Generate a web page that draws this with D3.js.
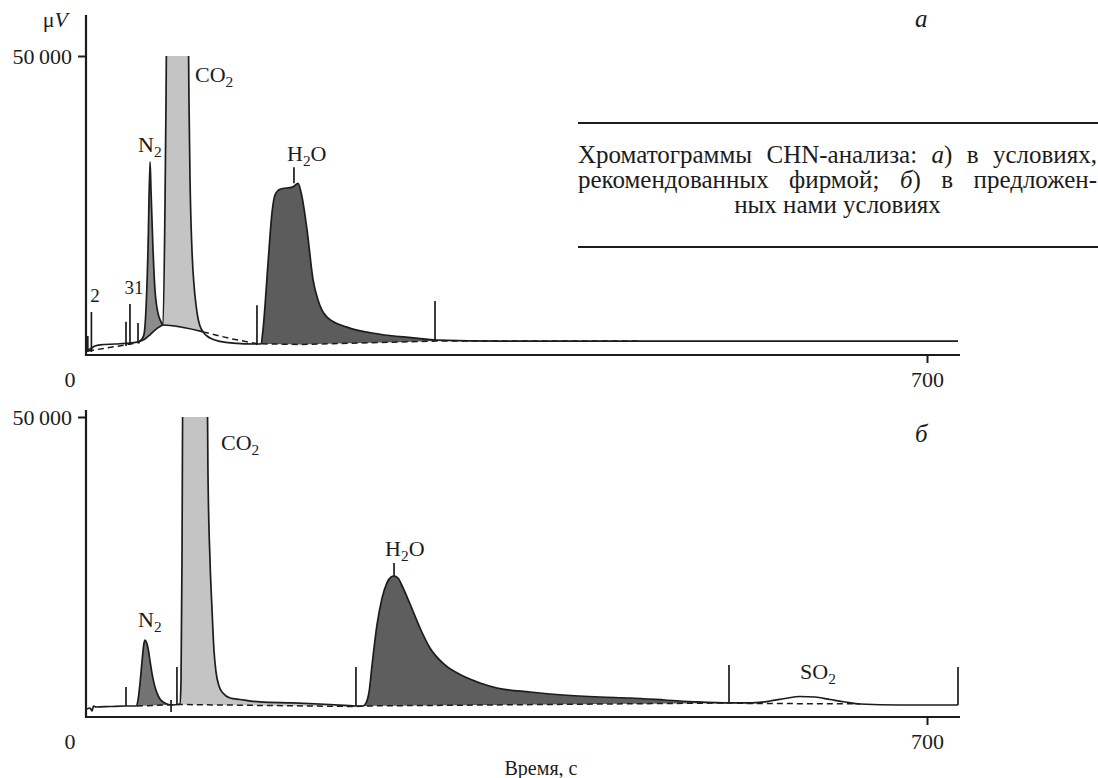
<!DOCTYPE html>
<html>
<head>
<meta charset="utf-8">
<script src="https://cdn.jsdelivr.net/npm/d3@7"></script>
<style>
  body { margin: 0; background: #fff; }
  text { font-family: "Liberation Serif", "Times New Roman", serif; fill: #1c1c1c; }
</style>
</head>
<body>
<svg id="chart" width="1098" height="778"></svg>
<script>
// ---- data: time (s), signal (μV) ----
const xTicks = [700]
const yTicks = [50000]

// panel а
const signalA = [[0,340],[3.3,500],[7.5,1000],[11.7,1200],[24.1,1350],[36.6,1500],[43.3,1700],[46.6,2200],[48.3,3000],[49.9,7100],[51.6,17200],[53.3,32100],[54.1,27400],[55.8,17200],[57.4,10500],[59.1,7400],[60.8,5900],[62.4,5100],[64.1,4560],[65.8,25700],[66.6,42600],[67.4,60000],[84.9,60000],[85.7,42600],[86.6,29000],[88.2,17200],[89.9,11300],[91.6,7900],[93.2,5700],[94.9,4400],[97.4,3400],[100.7,2700],[104.9,2200],[111.5,1800],[122.4,1500],[142.3,1350],[145.7,1350],[147.3,3700],[151.5,15000],[154.8,23500],[157.3,26500],[161.5,27500],[172.3,27900],[176.5,28500],[179.8,26200],[184,20600],[189,12200],[193.1,8800],[200.6,5900],[217.2,4200],[244.7,3000],[272.2,2400],[292.2,2000],[344.6,1850],[725.8,1850]]
const humpA = [[43.3,1700],[49.1,2200],[53.3,2900],[57.4,3700],[61.6,4300],[64.1,4560],[97.4,3400]]
const dashA1 = [[1.7,170],[44.9,1600]]
const dashA2 = [[97.4,3400],[119.9,2280],[142.3,1400],[178.1,1270],[292.2,1850],[461.1,1850]]
// vertical markers: time, low, high
const marksA = [[1.5,0,2700],[4.5,0,6750],[33.3,1000,5100],[36.6,1200,8100],[43.3,1700,4900],[142.3,1200,7900],[290.5,1850,8600],[173.1,28500,31200]]
// peaks: name, from, to, baseline
const peaksA = [["N2",43.3,64.1,"hump"],["CO2",64.1,97.4,"hump"],["H2O",142.3,292.2,"dash"]]
const labelsA = [["2",7.5,8450,"middle"],["31",40,9800,"middle"],["N2",43.3,33780,"start"],["CO2",90.7,45600,"start"],["H2O",167.3,32260,"start"]]

// panel б
const signalB = [[0.8,500],[3.3,680],[5,170],[6.2,1020],[8.3,850],[20,930],[32.5,1020],[41.6,1020],[43.3,2030],[44.9,4750],[46.6,8500],[48.3,11700],[49.1,12200],[49.9,12000],[51.6,10850],[53.3,8650],[54.9,6600],[56.6,4900],[59.1,3200],[61.6,2200],[64.1,1700],[67.4,1360],[71.6,1190],[76.6,1270],[78.2,1360],[79.1,5400],[79.9,25800],[80.7,60000],[100.7,60000],[101.5,41000],[103.2,25800],[104.9,17300],[106.5,10500],[108.2,6800],[110.7,4400],[114,3200],[119.9,2370],[128.2,2120],[144.8,1700],[172.3,1530],[203.1,1270],[224.7,1020],[230.6,1020],[233.1,1530],[235.6,3400],[238.1,7970],[242.2,14750],[246.4,19300],[250.5,21870],[253.9,22880],[256.4,23050],[259.7,22710],[263.9,21020],[269.7,18300],[278,14240],[286.3,10850],[298.8,7970],[313.8,6100],[328,4920],[342.1,4070],[369.6,3390],[397,2880],[427.8,2540],[452.8,2370],[481.9,2030],[508.6,1700],[536,1530],[552.7,1530],[569.3,1860],[581.8,2290],[594.3,2630],[606.8,2540],[619.3,2120],[631.8,1700],[644.3,1360],[677.5,1190],[725.8,1190]]
const dashB = [[42.4,1020],[78.2,1270],[225.6,930],[230.6,1020],[536,1530],[554.3,1440],[644.3,1390]]
const marksB = [[33.3,1020,4240],[70.8,0,2030],[75.7,1360,7630],[224.7,1020,7630],[535.2,1530,7970],[725.8,1190,7630],[256.4,23050,25250]]
const peaksB = [["N2",42.4,71.6,"dash"],["CO2",78.2,224.7,"dash"],["H2O",230.6,536,"dash"]]
const labelsB = [["N2",43.3,14400,"start"],["CO2",112.4,44400,"start"],["H2O",248.9,26440,"start"],["SO2",594.3,5590,"start"]]

const captionLines = [
  ["Хроматограммы", "CHN-анализа:", "_а_)", "в", "условиях,"],
  ["рекомендованных", "фирмой;", "_б_)", "в", "предложен-"],
  ["ных", "нами", "условиях"]
]

// ---- drawing ----
const svg = d3.select("#chart")
const x = d3.scaleLinear().domain([0, 700]).range([86, 927])
const xRight = 960
const ink = "#1c1c1c"

const fills = {
  a: { N2: "#8c8c8c", CO2: "#c4c4c4", H2O: "#5c5c5c" },
  b: { N2: "#737373", CO2: "#c4c4c4", H2O: "#5e5e5e" }
}

function interp(arr, t) {
  if (t <= arr[0][0]) return arr[0][1]
  for (let i = 1; i < arr.length; i++) {
    if (t <= arr[i][0]) {
      const [t0, v0] = arr[i - 1], [t1, v1] = arr[i]
      return v0 + (v1 - v0) * (t - t0) / (t1 - t0)
    }
  }
  return arr[arr.length - 1][1]
}

function segment(arr, a, b) {
  return [[a, interp(arr, a)], ...arr.filter(d => d[0] > a && d[0] < b), [b, interp(arr, b)]]
}

// chemical label with subscript digits
function chemLabel(g, txt, px, py, anchor, size) {
  const t = g.append("text").attr("x", px).attr("y", py)
    .attr("text-anchor", anchor).attr("font-size", size)
  if (/^\d+$/.test(txt)) { t.text(txt); return t }
  let sub = false
  txt.split(/(\d)/).filter(s => s).forEach(s => {
    const isNum = /\d/.test(s)
    const ts = t.append("tspan").text(s)
    if (isNum && !sub) { ts.attr("dy", 5).attr("font-size", size * 0.7); sub = true }
    else if (!isNum && sub) { ts.attr("dy", -5); sub = false }
  })
  return t
}

function drawPanel(p) {
  const y = d3.scaleLinear().domain([0, 50000]).range([p.zeroY, p.topY])
  const g = svg.append("g")

  svg.append("defs").append("clipPath").attr("id", "clip" + p.id)
    .append("rect")
    .attr("x", x(0)).attr("y", y(50000))
    .attr("width", xRight - x(0)).attr("height", p.axisY - y(50000))

  const line = d3.line().x(d => x(d[0])).y(d => y(d[1])).curve(d3.curveMonotoneX)
  const straight = d3.line().x(d => x(d[0])).y(d => y(d[1]))

  // filled peaks
  p.peaks.forEach(([name, a, b, baseKey]) => {
    const base = p.bases[baseKey]
    const area = d3.area()
      .x(d => x(d[0]))
      .y1(d => y(d[1]))
      .y0(d => y(interp(base, d[0])))
      .curve(d3.curveMonotoneX)
    g.append("path")
      .attr("d", area(segment(p.signal, a, b)))
      .attr("fill", fills[p.id][name])
      .attr("clip-path", `url(#clip${p.id})`)
  })

  // integration baselines
  p.dashes.forEach(ds => {
    g.append("path").attr("d", straight(ds))
      .attr("fill", "none").attr("stroke", ink)
      .attr("stroke-width", 1.5).attr("stroke-dasharray", "6,4")
  })
  if (p.hump) {
    g.append("path").attr("d", line(p.hump))
      .attr("fill", "none").attr("stroke", ink).attr("stroke-width", 1.6)
  }

  // signal
  g.append("path").attr("d", line(p.signal))
    .attr("fill", "none").attr("stroke", ink).attr("stroke-width", 1.7)
    .attr("stroke-linejoin", "round")
    .attr("clip-path", `url(#clip${p.id})`)

  // markers
  g.selectAll(".mark").data(p.marks).join("line")
    .attr("class", "mark")
    .attr("x1", d => x(d[0])).attr("x2", d => x(d[0]))
    .attr("y1", d => y(d[1])).attr("y2", d => y(d[2]))
    .attr("stroke", ink).attr("stroke-width", 1.7)

  // axes
  g.append("line")
    .attr("x1", x(0)).attr("x2", x(0))
    .attr("y1", p.axisTop).attr("y2", p.axisY + 1)
    .attr("stroke", ink).attr("stroke-width", 2.2)
  g.append("line")
    .attr("x1", x(0) - 1).attr("x2", xRight)
    .attr("y1", p.axisY).attr("y2", p.axisY)
    .attr("stroke", ink).attr("stroke-width", 2.2)

  const yAxis = g.append("g").attr("transform", `translate(${x(0)},0)`)
    .call(d3.axisLeft(y).tickValues(yTicks).tickSize(8).tickPadding(6)
      .tickFormat(d => d3.format(",")(d).replace(",", "\u2009")))
  yAxis.select(".domain").remove()
  yAxis.selectAll("line").attr("stroke", ink).attr("stroke-width", 2)
  yAxis.selectAll("text").attr("font-size", 22).attr("font-family", null).attr("fill", ink)

  const xAxis = g.append("g").attr("transform", `translate(0,${p.axisY})`)
    .call(d3.axisBottom(x).tickValues(xTicks).tickSize(8).tickPadding(8))
  xAxis.select(".domain").remove()
  xAxis.selectAll("line").attr("stroke", ink).attr("stroke-width", 2)
  xAxis.selectAll("text").attr("font-size", 22).attr("font-family", null).attr("fill", ink)
  xAxis.append("text").attr("x", x(0) - 16).attr("y", 16).attr("dy", "0.71em")
    .attr("text-anchor", "middle").attr("font-size", 22).text("0")

  // peak labels
  p.labels.forEach(([txt, t, v, anchor]) => {
    const small = /^\d+$/.test(txt)
    chemLabel(g, txt, x(t), y(v), anchor, small ? 19 : 22)
  })

  // panel tag
  g.append("text").attr("x", 915).attr("y", p.tagY)
    .attr("font-size", 25).attr("font-style", "italic").text(p.tag)
}

drawPanel({
  id: "a", zeroY: 352, topY: 56, axisTop: 15, axisY: 355,
  signal: signalA, hump: humpA, dashes: [dashA1, dashA2],
  bases: { hump: humpA, dash: dashA2 },
  marks: marksA, peaks: peaksA, labels: labelsA, tag: "а", tagY: 27
})
drawPanel({
  id: "b", zeroY: 712, topY: 417, axisTop: 410, axisY: 717,
  signal: signalB, hump: null, dashes: [dashB],
  bases: { dash: dashB },
  marks: marksB, peaks: peaksB, labels: labelsB, tag: "б", tagY: 442
})

// y unit
const unit = svg.append("text").attr("x", 68).attr("y", 27)
  .attr("text-anchor", "end").attr("font-size", 22)
unit.append("tspan").text("μ")
unit.append("tspan").attr("font-style", "italic").text("V")

// x title
svg.append("text").attr("x", 541).attr("y", 775)
  .attr("text-anchor", "middle").attr("font-size", 20).text("Время, с")

// caption box
const cap = svg.append("g")
const capLeft = 578, capRight = 1097, capSize = 25
cap.append("line").attr("x1", capLeft).attr("x2", 1098).attr("y1", 123).attr("y2", 123)
  .attr("stroke", ink).attr("stroke-width", 2)
cap.append("line").attr("x1", capLeft).attr("x2", 1098).attr("y1", 247).attr("y2", 247)
  .attr("stroke", ink).attr("stroke-width", 2)

function wordText(parent, word, px, py) {
  const t = parent.append("text").attr("x", px).attr("y", py).attr("font-size", capSize)
  word.split("_").forEach((s, i) => {
    if (s) t.append("tspan").attr("font-style", i % 2 ? "italic" : null).text(s)
  })
  return t
}

const baselines = [163, 188, 213]
captionLines.forEach((words, li) => {
  const py = baselines[li]
  if (li < captionLines.length - 1) {
    const nodes = words.map(w => wordText(cap, w, 0, py))
    const widths = nodes.map(n => n.node().getComputedTextLength())
    const gap = (capRight - capLeft - d3.sum(widths)) / (words.length - 1)
    let cx = capLeft
    nodes.forEach((n, i) => { n.attr("x", cx); cx += widths[i] + gap })
  } else {
    wordText(cap, words.join(" "), (capLeft + capRight) / 2, py).attr("text-anchor", "middle")
  }
})
</script>
</body>
</html>
